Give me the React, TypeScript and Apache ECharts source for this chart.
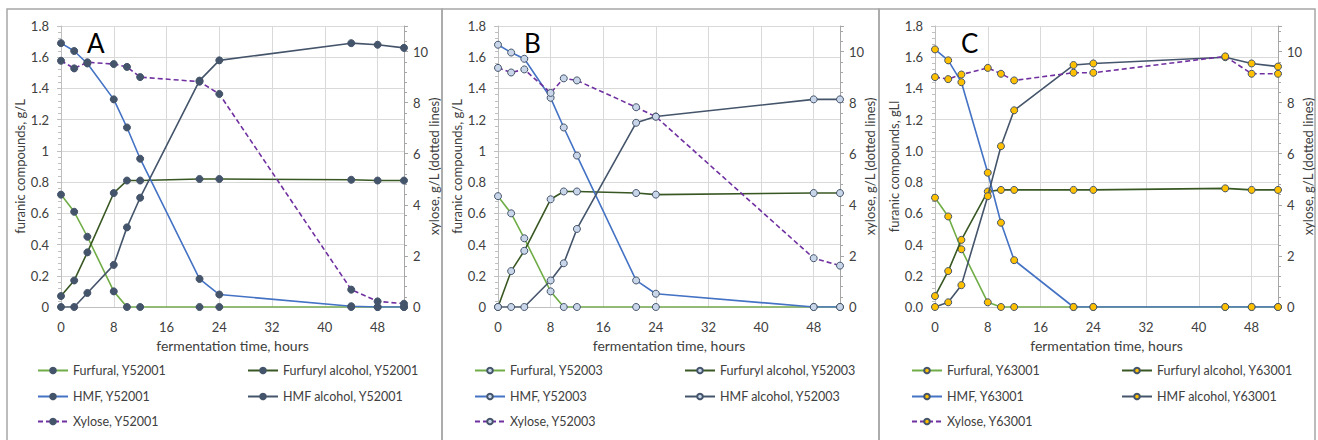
import React, { useEffect, useRef } from 'react';
import * as echarts from 'echarts';

// ---------- data ----------
const panelLetters = ['A', 'B', 'C'];
const strains = ['Y52001', 'Y52003', 'Y63001'];
const compounds = ['Furfural', 'Furfuryl alcohol', 'HMF', 'HMF alcohol', 'Xylose'];
const xTicksMax = 52;

const timesA = [0, 2, 4, 8, 10, 12, 21, 24, 44, 48, 52];
const furfuralA = [0.72, 0.61, 0.45, 0.1, 0, 0, 0, 0, 0, 0, 0];
const furfurylAlcA = [0.07, 0.17, 0.35, 0.73, 0.81, 0.81, 0.82, 0.82, 0.815, 0.81, 0.81];
const hmfA = [1.69, 1.64, 1.56, 1.33, 1.15, 0.95, 0.18, 0.08, 0.005, 0, 0];
const hmfAlcA = [0, 0, 0.09, 0.27, 0.51, 0.7, 1.45, 1.58, 1.69, 1.68, 1.66];
const xyloseA = [9.64, 9.34, 9.58, 9.51, 9.4, 9.0, 8.82, 8.34, 0.68, 0.22, 0.13];

const timesB = [0, 2, 4, 8, 10, 12, 21, 24, 48, 52];
const furfuralB = [0.71, 0.6, 0.44, 0.1, 0, 0, 0, 0, 0, 0];
const furfurylAlcB = [0, 0.23, 0.36, 0.69, 0.74, 0.74, 0.73, 0.72, 0.73, 0.73];
const hmfB = [1.68, 1.63, 1.59, 1.34, 1.15, 0.97, 0.17, 0.085, 0, 0];
const hmfAlcB = [0, 0, 0, 0.17, 0.28, 0.5, 1.18, 1.22, 1.33, 1.33];
const xyloseB = [9.36, 9.18, 9.3, 8.38, 8.95, 8.87, 7.82, 7.45, 1.91, 1.62];

const timesC = [0, 2, 4, 8, 10, 12, 21, 24, 44, 48, 52];
const furfuralC = [0.7, 0.58, 0.37, 0.03, 0, 0, 0, 0, 0, 0, 0];
const furfurylAlcC = [0.07, 0.23, 0.43, 0.74, 0.75, 0.75, 0.75, 0.75, 0.76, 0.75, 0.75];
const hmfC = [1.65, 1.58, 1.44, 0.86, 0.54, 0.3, 0, 0, 0, 0, 0];
const hmfAlcC = [0, 0.03, 0.14, 0.71, 1.03, 1.26, 1.55, 1.56, 1.6, 1.56, 1.54];
const xyloseC = [9.0, 8.92, 9.1, 9.36, 9.13, 8.87, 9.17, 9.17, 9.81, 9.13, 9.13];

const panelData = [
  { times: timesA, series: [furfuralA, furfurylAlcA, hmfA, hmfAlcA, xyloseA] },
  { times: timesB, series: [furfuralB, furfurylAlcB, hmfB, hmfAlcB, xyloseB] },
  { times: timesC, series: [furfuralC, furfurylAlcC, hmfC, hmfAlcC, xyloseC] },
];

// ---------- styles / layout ----------
const FONT = 'Lato, "Open Sans", sans-serif';
const TXT = '#404040';
const lineColors = ['#70AD47', '#385723', '#4472C4', '#44546A', '#7030A0'];
const markerFill = ['#44546A', '#C9D6EA', '#FFC000'];
const leftNames = ['furanic compounds, g/L', 'furanic compounds, g/L', 'furanic compounds, gLl'];
const panels = [
  { gl: 61, gr: 404, bx: 7, bw: 435 },
  { gl: 498, gr: 840, bx: 442, bw: 437 },
  { gl: 935, gr: 1278, bx: 879, bw: 436 },
];
const GT = 26;
const GB = 307;

function buildOption() {
  const grid: any[] = [];
  const xAxis: any[] = [];
  const yAxis: any[] = [];
  const series: any[] = [];
  const legend: any[] = [];
  const graphic: any[] = [];

  panels.forEach((p, i) => {
    grid.push({ left: p.gl, top: GT, width: p.gr - p.gl, height: GB - GT });
    xAxis.push({
      type: 'value', gridIndex: i, min: 0, max: xTicksMax, interval: 8,
      name: 'fermentation time, hours', nameLocation: 'middle', nameGap: 31,
      nameTextStyle: { fontSize: 14, color: TXT, fontFamily: FONT },
      axisLine: { show: true, lineStyle: { color: '#BFBFBF', width: 1 } },
      axisTick: { show: false },
      axisLabel: { fontSize: 13, color: TXT, fontFamily: FONT, margin: 13, showMaxLabel: false },
      splitLine: { show: true, lineStyle: { color: '#D9D9D9', width: 1 } },
    });
    yAxis.push({
      type: 'value', gridIndex: i, position: 'left', min: 0, max: 1.8, interval: 0.2,
      name: leftNames[i], nameLocation: 'middle', nameGap: 35, nameMoveOverlap: false,
      nameTextStyle: { fontSize: 13, color: TXT, fontFamily: FONT },
      axisLine: { show: true, lineStyle: { color: '#BFBFBF', width: 1 } },
      axisTick: { show: true, length: 4, lineStyle: { color: '#BFBFBF' } },
      minorTick: { show: true, splitNumber: 5, length: 3, lineStyle: { color: '#BFBFBF' } },
      axisLabel: {
        fontSize: 13, color: TXT, fontFamily: FONT, margin: 12,
        formatter: (v: number) => (i === 2 ? v.toFixed(1) : String(Math.round(v * 10) / 10)),
      },
      splitLine: { show: true, lineStyle: { color: '#D9D9D9', width: 1 } },
    });
    yAxis.push({
      type: 'value', gridIndex: i, position: 'right', min: 0, max: 11, interval: 2,
      name: 'xylose, g/L (dotted lines)', nameLocation: 'middle', nameGap: 23, nameRotate: 90,
      nameMoveOverlap: false,
      nameTextStyle: { fontSize: 13, color: TXT, fontFamily: FONT },
      axisLine: { show: true, lineStyle: { color: '#A6A6A6', width: 1 } },
      axisTick: { show: true, length: 4, lineStyle: { color: '#A6A6A6' } },
      minorTick: { show: true, splitNumber: 5, length: 3, lineStyle: { color: '#A6A6A6' } },
      axisLabel: { fontSize: 13, color: TXT, fontFamily: FONT, margin: 9, showMaxLabel: false },
      splitLine: { show: false },
    });

    const d = panelData[i];
    compounds.forEach((c, k) => {
      const name = `${c}, ${strains[i]}`;
      series.push({
        type: 'line', name, xAxisIndex: i, yAxisIndex: k === 4 ? i * 2 + 1 : i * 2,
        data: d.times.map((t, j) => [t, d.series[k][j]]),
        symbol: 'circle', symbolSize: 7,
        lineStyle: { color: lineColors[k], width: 1.6, type: k === 4 ? [5, 3] : 'solid' },
        itemStyle: { color: markerFill[i], borderColor: '#44546A', borderWidth: 1 },
        z: 2 + k,
      });
      const col = k % 2;
      const row = Math.floor(k / 2);
      legend.push({
        data: [name], left: p.gl - 24 + col * 210, top: [371, 397, 422][row] - 7,
        padding: 0, itemWidth: 30, itemHeight: 7, selectedMode: false,
        textStyle: { fontSize: 12.5, color: TXT, fontFamily: FONT },
      });
    });

    graphic.push({
      type: 'rect', shape: { x: p.bx, y: 9, width: p.bw, height: 460 },
      style: { fill: 'none', stroke: '#A6A6A6', lineWidth: 1.5 }, silent: true,
    });
    graphic.push({
      type: 'text', left: p.gl + 26, top: 30,
      style: { text: panelLetters[i], fontSize: 26, fill: '#000', fontFamily: FONT },
    });
  });

  return { animation: false, backgroundColor: '#fff', grid, xAxis, yAxis, series, legend, graphic };
}

export default function App() {
  const ref = useRef<HTMLDivElement>(null);
  useEffect(() => {
    document.body.style.margin = '0';
    const chart = echarts.init(ref.current!, null, { renderer: 'svg' });
    chart.setOption(buildOption() as any);
    return () => chart.dispose();
  }, []);
  return <div ref={ref} style={{ width: 1318, height: 440 }} />;
}
